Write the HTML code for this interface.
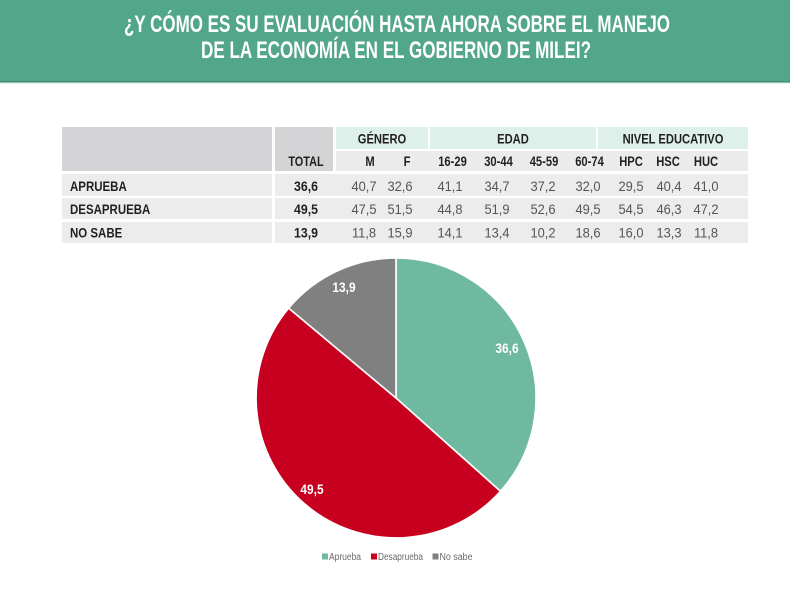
<!DOCTYPE html>
<html>
<head>
<meta charset="utf-8">
<style>
  html,body{margin:0;padding:0;background:#fff;}
  svg{display:block;}
  text{font-family:"Liberation Sans",sans-serif;}
  .b{font-weight:bold;fill:#231f20;}
  .v{fill:#555;}
</style>
</head>
<body>
<svg width="790" height="593" viewBox="0 0 790 593" xmlns="http://www.w3.org/2000/svg">
  <!-- Header band -->
  <rect x="0" y="0" width="790" height="81" fill="#52a68a"/>
  <rect x="0" y="81" width="790" height="1.5" fill="#3f8e74"/>
  <rect x="0" y="82.5" width="790" height="1.5" fill="#e3f2ee"/>
  <text x="397" y="32" text-anchor="middle" font-size="24" font-weight="bold" fill="#fff" textLength="546" lengthAdjust="spacingAndGlyphs">¿Y CÓMO ES SU EVALUACIÓN HASTA AHORA SOBRE EL MANEJO</text>
  <text x="396" y="58" text-anchor="middle" font-size="24" font-weight="bold" fill="#fff" textLength="390" lengthAdjust="spacingAndGlyphs">DE LA ECONOMÍA EN EL GOBIERNO DE MILEI?</text>

  <!-- Table header -->
  <rect x="62" y="127" width="210" height="44" fill="#d4d4d6"/>
  <rect x="275" y="127" width="58" height="44" fill="#d4d4d6"/>
  <rect x="336" y="127" width="92" height="22" fill="#ddf0ea"/>
  <rect x="430" y="127" width="166" height="22" fill="#ddf0ea"/>
  <rect x="598" y="127" width="150" height="22" fill="#ddf0ea"/>
  <rect x="336" y="151" width="412" height="20" fill="#ebebeb"/>

  <!-- Data rows -->
  <rect x="62" y="174" width="210" height="22" fill="#ececec"/>
  <rect x="275" y="174" width="473" height="22" fill="#ececec"/>
  <rect x="62" y="198" width="210" height="21" fill="#ececec"/>
  <rect x="275" y="198" width="473" height="21" fill="#ececec"/>
  <rect x="62" y="222" width="210" height="21" fill="#ececec"/>
  <rect x="275" y="222" width="473" height="21" fill="#ececec"/>

  <!-- Header text -->
  <g class="b" font-size="14" text-anchor="middle">
    <text transform="translate(306,166) scale(0.78,1)">TOTAL</text>
    <text transform="translate(382,143.5) scale(0.8,1)">GÉNERO</text>
    <text transform="translate(513,143.5) scale(0.8,1)">EDAD</text>
    <text transform="translate(673,143.5) scale(0.8,1)">NIVEL EDUCATIVO</text>
    <text transform="translate(370,166) scale(0.8,1)">M</text>
    <text transform="translate(407,166) scale(0.8,1)">F</text>
    <text transform="translate(452.5,166) scale(0.8,1)">16-29</text>
    <text transform="translate(498.5,166) scale(0.8,1)">30-44</text>
    <text transform="translate(544,166) scale(0.8,1)">45-59</text>
    <text transform="translate(589.5,166) scale(0.8,1)">60-74</text>
    <text transform="translate(631,166) scale(0.8,1)">HPC</text>
    <text transform="translate(668,166) scale(0.8,1)">HSC</text>
    <text transform="translate(706,166) scale(0.8,1)">HUC</text>
  </g>

  <!-- Row labels -->
  <g class="b" font-size="14">
    <text transform="translate(70,191) scale(0.82,1)">APRUEBA</text>
    <text transform="translate(70,214) scale(0.82,1)">DESAPRUEBA</text>
    <text transform="translate(70,237.5) scale(0.82,1)">NO SABE</text>
  </g>

  <!-- Totals -->
  <g class="b" font-size="14" text-anchor="middle" fill="#333">
    <text transform="translate(306,191) scale(0.88,1)">36,6</text>
    <text transform="translate(306,214) scale(0.88,1)">49,5</text>
    <text transform="translate(306,237.5) scale(0.88,1)">13,9</text>
  </g>

  <!-- Values -->
  <g class="v" font-size="14" text-anchor="middle">
    <g transform="translate(0,191)">
      <text transform="translate(364,0) scale(0.92,1)">40,7</text>
      <text transform="translate(400,0) scale(0.92,1)">32,6</text>
      <text transform="translate(450,0) scale(0.92,1)">41,1</text>
      <text transform="translate(497,0) scale(0.92,1)">34,7</text>
      <text transform="translate(543,0) scale(0.92,1)">37,2</text>
      <text transform="translate(588,0) scale(0.92,1)">32,0</text>
      <text transform="translate(631,0) scale(0.92,1)">29,5</text>
      <text transform="translate(669,0) scale(0.92,1)">40,4</text>
      <text transform="translate(706,0) scale(0.92,1)">41,0</text>
    </g>
    <g transform="translate(0,214)">
      <text transform="translate(364,0) scale(0.92,1)">47,5</text>
      <text transform="translate(400,0) scale(0.92,1)">51,5</text>
      <text transform="translate(450,0) scale(0.92,1)">44,8</text>
      <text transform="translate(497,0) scale(0.92,1)">51,9</text>
      <text transform="translate(543,0) scale(0.92,1)">52,6</text>
      <text transform="translate(588,0) scale(0.92,1)">49,5</text>
      <text transform="translate(631,0) scale(0.92,1)">54,5</text>
      <text transform="translate(669,0) scale(0.92,1)">46,3</text>
      <text transform="translate(706,0) scale(0.92,1)">47,2</text>
    </g>
    <g transform="translate(0,237.5)">
      <text transform="translate(364,0) scale(0.92,1)">11,8</text>
      <text transform="translate(400,0) scale(0.92,1)">15,9</text>
      <text transform="translate(450,0) scale(0.92,1)">14,1</text>
      <text transform="translate(497,0) scale(0.92,1)">13,4</text>
      <text transform="translate(543,0) scale(0.92,1)">10,2</text>
      <text transform="translate(588,0) scale(0.92,1)">18,6</text>
      <text transform="translate(631,0) scale(0.92,1)">16,0</text>
      <text transform="translate(669,0) scale(0.92,1)">13,3</text>
      <text transform="translate(706,0) scale(0.92,1)">11,8</text>
    </g>
  </g>

  <!-- Pie -->
  <g stroke="#fff" stroke-width="1.6" stroke-linejoin="round">
    <path d="M396,398 L396,258 A140,140 0 0,1 500.44,491.23 Z" fill="#6fb9a0"/>
    <path d="M396,398 L500.44,491.23 A140,140 0 0,1 288.69,308.09 Z" fill="#c8001f"/>
    <path d="M396,398 L288.69,308.09 A140,140 0 0,1 396,258 Z" fill="#808080"/>
  </g>
  <g font-size="14" font-weight="bold" fill="#fff" text-anchor="middle">
    <text transform="translate(507,353) scale(0.85,1)">36,6</text>
    <text transform="translate(344,292) scale(0.85,1)">13,9</text>
    <text transform="translate(312,494) scale(0.85,1)">49,5</text>
  </g>

  <!-- Legend -->
  <rect x="322" y="553.5" width="6" height="6" fill="#6fb9a0"/>
  <text x="329" y="560" font-size="10" fill="#6a6a6a" textLength="32" lengthAdjust="spacingAndGlyphs">Aprueba</text>
  <rect x="371" y="553.5" width="6" height="6" fill="#c8001f"/>
  <text x="378" y="560" font-size="10" fill="#6a6a6a" textLength="45" lengthAdjust="spacingAndGlyphs">Desaprueba</text>
  <rect x="432.5" y="553.5" width="6" height="6" fill="#808080"/>
  <text x="439.5" y="560" font-size="10" fill="#6a6a6a" textLength="33" lengthAdjust="spacingAndGlyphs">No sabe</text>
</svg>
</body>
</html>
